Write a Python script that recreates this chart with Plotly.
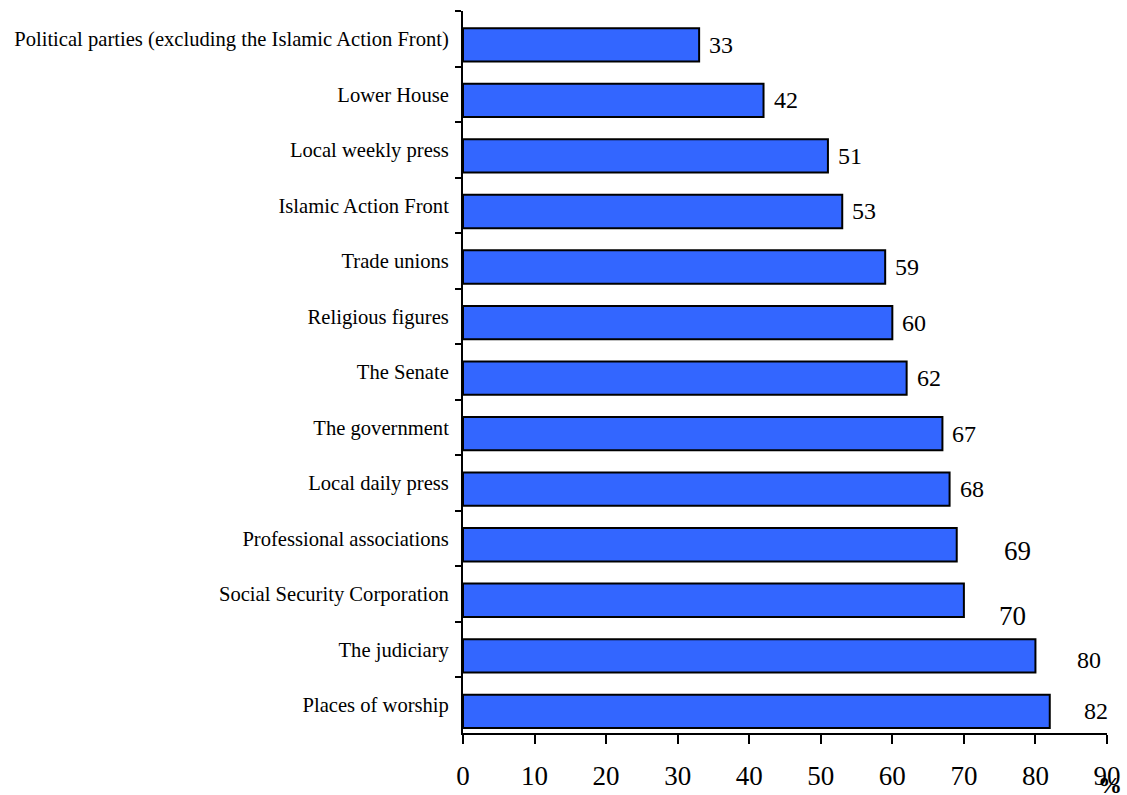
import plotly.graph_objects as go

categories = [
    "Political parties (excluding the Islamic Action Front)",
    "Lower House",
    "Local weekly press",
    "Islamic Action Front",
    "Trade unions",
    "Religious figures",
    "The Senate",
    "The government",
    "Local daily press",
    "Professional associations",
    "Social Security Corporation",
    "The judiciary",
    "Places of worship",
]
values = [33, 42, 51, 53, 59, 60, 62, 67, 68, 69, 70, 80, 82]
x_ticks = [0, 10, 20, 30, 40, 50, 60, 70, 80, 90]

FONT = "Liberation Serif, Times New Roman, serif"
BAR_W = 0.6
BAR_SHIFT = 0.11  # bars sit slightly below band centres
PX_PER_UNIT_Y = 722 / 13

# label placement tweaks (px): dx from bar end, dy downward from bar centre, font size
label_style = {
    69: (45, 6, 27),
    70: (33, 16, 27),
    80: (40, 4, 24),
    82: (32, 0, 24),
}

fig = go.Figure()
fig.add_trace(go.Bar(
    x=values, y=categories, orientation="h",
    width=BAR_W, offset=-BAR_W / 2 + BAR_SHIFT,
    marker=dict(color="#3366FF", line=dict(color="black", width=2)),
    hoverinfo="x+y",
))

for cat, v in zip(categories, values):
    dx, dy, fs = label_style.get(v, (8, 0, 24))
    fig.add_annotation(
        x=v, y=cat, xref="x", yref="y", text=str(v), showarrow=False,
        xanchor="left", yanchor="middle",
        xshift=dx, yshift=-(BAR_SHIFT * PX_PER_UNIT_Y + dy),
        font=dict(family=FONT, size=fs, color="black"),
    )

fig.add_annotation(
    x=1.0047, y=-0.072, xref="paper", yref="paper", text="<b>%</b>",
    showarrow=False, xanchor="center", yanchor="middle",
    font=dict(family=FONT, size=24, color="black"),
)

fig.update_layout(
    width=1127, height=795,
    margin=dict(l=463, r=20, t=11, b=62),
    plot_bgcolor="white", paper_bgcolor="white",
    showlegend=False,
    font=dict(family=FONT, color="black"),
    xaxis=dict(
        range=[0, 90], tickvals=x_ticks, ticktext=[str(t) for t in x_ticks],
        showline=True, linecolor="black", linewidth=2,
        ticks="outside", ticklen=9, tickwidth=2, tickcolor="black",
        showgrid=False, zeroline=False, automargin=False,
        tickfont=dict(family=FONT, size=27, color="black"),
        ticklabelstandoff=9,
    ),
    yaxis=dict(
        type="category", autorange="reversed",
        showline=True, linecolor="black", linewidth=2,
        ticks="outside", ticklen=6, tickwidth=2, tickcolor="black",
        tickson="boundaries", showgrid=False, zeroline=False, automargin=False,
        tickfont=dict(family=FONT, size=20.6, color="black"),
        ticklabelstandoff=8,
    ),
)

fig.write_html(
    "out.html",
    config={"displayModeBar": False},
    post_script="document.body.style.margin='0';document.body.style.overflow='hidden';",
)
